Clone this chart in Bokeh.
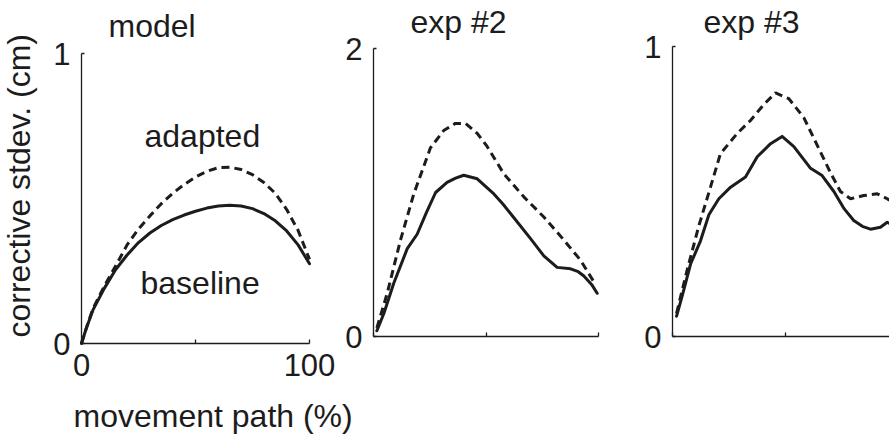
import math
from bokeh.plotting import figure
from bokeh.models import Range1d, FixedTicker, Label, LinearAxis
from bokeh.embed import file_html
from bokeh.resources import INLINE

# ---- data: corrective standard deviation (cm) along the movement path (%) ----
model_x = [0, 2, 5, 10, 15, 20, 25, 30, 35, 40, 45, 50, 55, 60, 65, 70, 75, 80, 85, 90, 95, 100]
model_baseline = [0.0, 0.05, 0.115, 0.19, 0.255, 0.305, 0.348, 0.381, 0.407, 0.427, 0.443,
                  0.456, 0.467, 0.474, 0.477, 0.474, 0.465, 0.448, 0.423, 0.388, 0.34, 0.275]
model_adapted = [0.0, 0.05, 0.12, 0.198, 0.268, 0.34, 0.395, 0.44, 0.482, 0.518, 0.548,
                 0.574, 0.594, 0.606, 0.608, 0.6, 0.582, 0.555, 0.518, 0.462, 0.39, 0.29]

exp2_base_x = [1.5, 4.6, 9.0, 15.0, 19.4, 23.5, 27.6, 32.7, 36.5, 40.1, 46.1, 53.5, 57.5,
               61.6, 69.8, 75.7, 81.6, 87.6, 91.0, 93.5, 97.0, 99.4]
exp2_base = [0.04, 0.16, 0.37, 0.61, 0.71, 0.86, 1.0, 1.07, 1.10, 1.12, 1.095, 0.99, 0.92,
             0.84, 0.68, 0.56, 0.48, 0.47, 0.45, 0.42, 0.36, 0.30]
exp2_adapt_x = [1.5, 6.1, 12.0, 17.9, 25.3, 31.2, 36.4, 40.9, 46.1, 50.5, 57.9, 66.8, 75.7,
                84.6, 92.0, 97.9]
exp2_adapt = [0.06, 0.30, 0.67, 0.99, 1.31, 1.43, 1.48, 1.48, 1.41, 1.32, 1.13, 0.97, 0.83,
              0.67, 0.53, 0.38]

exp3_base_x = [1.8, 4.3, 8.0, 12.4, 16.1, 20.5, 25.7, 32.3, 37.5, 43.4, 48.5, 53.7, 61.1,
               66.2, 71.4, 76.0, 80.2, 84.0, 87.6, 92.0, 95.0, 96.0]
exp3_base = [0.07, 0.14, 0.25, 0.33, 0.42, 0.475, 0.515, 0.55, 0.62, 0.665, 0.69, 0.655, 0.58,
             0.555, 0.50, 0.44, 0.40, 0.38, 0.37, 0.377, 0.394, 0.39]
exp3_adapt_x = [1.8, 6.5, 11.6, 16.8, 21.2, 28.6, 34.5, 40.4, 45.6, 51.5, 58.1, 64.0, 69.9,
                74.3, 78.8, 84.6, 90.6, 95.0, 96.0]
exp3_adapt = [0.08, 0.23, 0.38, 0.515, 0.63, 0.70, 0.745, 0.80, 0.84, 0.82, 0.755, 0.66, 0.565,
              0.50, 0.475, 0.486, 0.492, 0.475, 0.47]

x_ticks = [0, 50, 100]
model_x_labels = ["0", "", "100"]
exp_x_labels = ["", "", ""]
model_y_ticks = [0, 1]
exp2_y_ticks = [0, 2]
exp3_y_ticks = [0, 1]

W, H = 889, 434
FONT = "Liberation Sans"
TICK_FS = "31px"
TEXT_FS = "32px"
INK = "#1c1c1c"

# panel geometry on the shared canvas: origin pixel and pixels per data unit
GEOM = {
    "default": dict(x0=81, xs=2.28, y0=343, ys=290),
    "exp2": dict(x0=373, xs=2.25, y0=336, ys=144),
    "exp3": dict(x0=672, xs=2.26, y0=336, ys=290),
}


def ranges(g):
    xr = Range1d(-g["x0"] / g["xs"], (W - g["x0"]) / g["xs"])
    yr = Range1d(-(H - g["y0"]) / g["ys"], g["y0"] / g["ys"])
    return xr, yr


def at(name, px, py):
    g = GEOM[name]
    return (px - g["x0"]) / g["xs"], (g["y0"] - py) / g["ys"]


xr0, yr0 = ranges(GEOM["default"])
p = figure(width=W, height=H, x_range=xr0, y_range=yr0, x_axis_type=None, y_axis_type=None,
           min_border=0, min_border_left=0, min_border_right=0, min_border_top=0,
           min_border_bottom=0, title=None, output_backend="svg", toolbar_location=None)
p.outline_line_color = None
p.background_fill_color = "white"
p.border_fill_color = "white"
for name in ("exp2", "exp3"):
    xr, yr = ranges(GEOM[name])
    p.extra_x_ranges[name] = xr
    p.extra_y_ranges[name] = yr


def style_axis(ax, tick_len):
    ax.axis_line_color = INK
    ax.axis_line_width = 1.3
    for kind in ("major", "minor"):
        setattr(ax, f"{kind}_tick_line_color", INK)
        setattr(ax, f"{kind}_tick_line_width", 1.3)
        setattr(ax, f"{kind}_tick_in", tick_len)
        setattr(ax, f"{kind}_tick_out", 0)
    ax.major_label_text_font = FONT
    ax.major_label_text_font_size = TICK_FS
    ax.major_label_text_color = INK


def axes(name, xmax, yticks, xlabels):
    # labelled x ticks are major ticks, the bare ones are drawn as minor ticks
    labelled = [t for t, lab in zip(x_ticks, xlabels) if lab]
    bare = [t for t, lab in zip(x_ticks, xlabels) if not lab]
    xa = LinearAxis(x_range_name=name, y_range_name=name, fixed_location=0,
                    bounds=(0, xmax), ticker=FixedTicker(ticks=labelled, minor_ticks=bare))
    style_axis(xa, 4)
    xa.major_label_standoff = 10
    xa.major_label_overrides = {t: lab for t, lab in zip(x_ticks, xlabels) if lab}
    p.add_layout(xa, "below")

    ya = LinearAxis(x_range_name=name, y_range_name=name, fixed_location=0,
                    bounds=(0, yticks[-1]), ticker=FixedTicker(ticks=[], minor_ticks=yticks))
    style_axis(ya, 3)
    p.add_layout(ya, "left")
    # y tick labels, placed just left of the axis at each tick value
    for t in yticks:
        p.add_layout(Label(x=0, y=t, x_offset=-11, x_range_name=name, y_range_name=name,
                           text=str(t), text_font=FONT, text_font_size=TICK_FS,
                           text_color=INK, text_align="right", text_baseline="alphabetic"))


def curves(name, xb, yb, xa, ya):
    p.line(xa, ya, x_range_name=name, y_range_name=name,
           line_color=INK, line_width=3, line_dash="8 5")
    p.line(xb, yb, x_range_name=name, y_range_name=name,
           line_color=INK, line_width=3, line_join="round", line_cap="round")


def text(name, px, py, s, angle=0.0, align="left"):
    x, y = at(name, px, py)
    p.add_layout(Label(x=x, y=y, x_range_name=name, y_range_name=name, text=s,
                       text_font=FONT, text_font_size=TEXT_FS, text_color=INK,
                       text_align=align, text_baseline="alphabetic",
                       angle=angle, angle_units="rad"))


# model
axes("default", 100, model_y_ticks, model_x_labels)
curves("default", model_x, model_baseline, model_x, model_adapted)
text("default", 108, 25, "model")
text("default", 144, 135, "adapted")
text("default", 140, 282, "baseline")
text("default", 73, 415, "movement path (%)")
text("default", 18, 337, "corrective stdev. (cm)", angle=math.pi / 2)

# exp #2
axes("exp2", 100, exp2_y_ticks, exp_x_labels)
curves("exp2", exp2_base_x, exp2_base, exp2_adapt_x, exp2_adapt)
text("exp2", 410, 21, "exp #2")

# exp #3
axes("exp3", 100, exp3_y_ticks, exp_x_labels)
curves("exp3", exp3_base_x, exp3_base, exp3_adapt_x, exp3_adapt)
text("exp3", 703, 21, "exp #3")

open("out.html", "w").write(file_html(p, INLINE))
